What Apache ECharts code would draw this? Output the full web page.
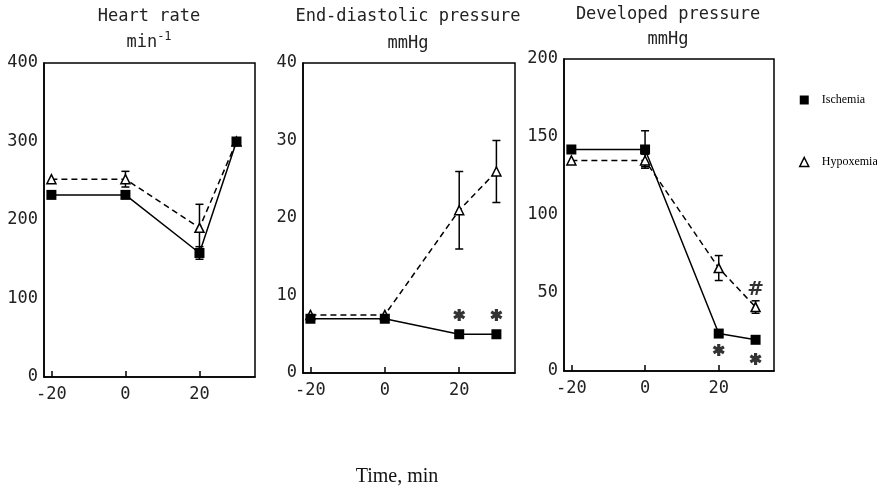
<!DOCTYPE html>
<html>
<head>
<meta charset="utf-8">
<script src="https://cdn.jsdelivr.net/npm/echarts@6/dist/echarts.min.js"></script>
<style>html,body{margin:0;padding:0;background:#fff}#c{width:877px;height:495px}</style>
</head>
<body>
<div id="c"></div>
<script>
// ---- data ----
const times = [-20, 0, 20, 30];
const xTickLabels = [-20, 0, 20];

const hrIsch = [232, 232, 158, 300];
const hrIschErr = [0, 0, 8, 0];
const hrHypo = [252, 252, 190, 300];
const hrHypoErr = [0, 10, 30, 0];

const edpIsch = [7, 7, 5, 5];
const edpIschErr = [0, 0, 0, 0];
const edpHypo = [7.5, 7.5, 21, 26];
const edpHypoErr = [0, 0, 5, 4];

const dpIsch = [142, 142, 24, 20];
const dpIschErr = [0, 12, 0, 0];
const dpHypo = [135, 135, 66, 41];
const dpHypoErr = [0, 4, 8, 4];

const edpStars = [[20, 7.5], [30, 7.5]];
const dpStars = [[20, 13.5], [30, 7.7]];
const dpHash = [[30, 52]];

const yMax = [400, 40, 200];
const yInterval = [100, 10, 50];

const panelTitles = ['Heart rate', 'End-diastolic pressure', 'Developed pressure'];
const panelUnits = ['min', 'mmHg', 'mmHg'];
const unitSup = ['-1', '', ''];
const xTitle = 'Time, min';

// ---- build ----
const MONO = '"DejaVu Sans Mono", monospace';
const SERIF = '"Liberation Serif", serif';
const STAR = 'path://M-1.6,-6L1.6,-6L1.6,6L-1.6,6Z M4.396,-4.386L5.996,-1.614L-4.396,4.386L-5.996,1.614Z M-5.996,-1.614L-4.396,-4.386L5.996,1.614L4.396,4.386Z';
const grids = [
  {left: 44, top: 63, width: 211, height: 314},
  {left: 303, top: 63, width: 212, height: 310},
  {left: 564, top: 59, width: 210, height: 312}
];
const pts = (vals) => times.map((t, i) => [t, vals[i]]);
const errPts = (vals, errs) => times.map((t, i) => [t, vals[i], errs[i]]).filter(d => d[2] > 0);

function errSeries(idx, vals, errs) {
  return {
    type: 'custom', xAxisIndex: idx, yAxisIndex: idx, z: 3,
    data: errPts(vals, errs),
    renderItem: function (params, api) {
      const x = api.value(0), y = api.value(1), e = api.value(2);
      const t = api.coord([x, y + e]);
      const b = api.coord([x, y - e]);
      const hw = 4;
      const st = {stroke: '#000', lineWidth: 1.5};
      return {type: 'group', children: [
        {type: 'line', shape: {x1: t[0], y1: t[1], x2: b[0], y2: b[1]}, style: st},
        {type: 'line', shape: {x1: t[0] - hw, y1: t[1], x2: t[0] + hw, y2: t[1]}, style: st},
        {type: 'line', shape: {x1: b[0] - hw, y1: b[1], x2: b[0] + hw, y2: b[1]}, style: st}
      ]};
    }
  };
}
function isch(idx, vals) {
  return {name: 'Ischemia', type: 'line', xAxisIndex: idx, yAxisIndex: idx, z: 5,
    data: pts(vals), symbol: 'rect', symbolSize: 10,
    itemStyle: {color: '#000'}, lineStyle: {color: '#000', width: 1.5}, animation: false};
}
function hypo(idx, vals) {
  return {name: 'Hypoxemia', type: 'line', xAxisIndex: idx, yAxisIndex: idx, z: 4,
    data: pts(vals), symbol: 'triangle', symbolSize: 9,
    itemStyle: {color: '#fff', borderColor: '#000', borderWidth: 1.5},
    lineStyle: {color: '#000', width: 1.5, type: [6, 4]}, animation: false};
}
function stars(idx, data) {
  return {type: 'scatter', xAxisIndex: idx, yAxisIndex: idx, z: 6, data: data,
    symbol: STAR, symbolSize: 12, itemStyle: {color: '#000'}, silent: true};
}
function hashMark(idx, data) {
  return {type: 'scatter', xAxisIndex: idx, yAxisIndex: idx, z: 6, data: data,
    symbolSize: 1, itemStyle: {color: 'rgba(0,0,0,0)'}, silent: true,
    label: {show: true, position: 'inside', formatter: '#',
      color: '#000', fontFamily: '"DejaVu Sans", sans-serif', fontWeight: 'bold', fontSize: 20}};
}

const xAxes = grids.map((g, i) => ({
  type: 'value', gridIndex: i, min: -22, max: 35,
  splitLine: {show: false},
  axisLine: {show: true, onZero: false, lineStyle: {color: '#000', width: 1.5}},
  axisTick: {show: true, inside: true, length: 6, customValues: xTickLabels, lineStyle: {color: '#000', width: 1.5}},
  axisLabel: {customValues: xTickLabels, margin: 9, color: '#222', fontFamily: MONO, fontSize: 17}
}));
const yAxes = grids.map((g, i) => ({
  type: 'value', gridIndex: i, min: 0, max: yMax[i], interval: yInterval[i],
  splitLine: {show: false},
  axisLine: {show: true, onZero: false, lineStyle: {color: '#000', width: 1.5}},
  axisTick: {show: false},
  axisLabel: {margin: 6, color: '#222', fontFamily: MONO, fontSize: 17}
}));

const series = [
  hypo(0, hrHypo), errSeries(0, hrHypo, hrHypoErr), isch(0, hrIsch), errSeries(0, hrIsch, hrIschErr),
  hypo(1, edpHypo), errSeries(1, edpHypo, edpHypoErr), isch(1, edpIsch), errSeries(1, edpIsch, edpIschErr),
  hypo(2, dpHypo), errSeries(2, dpHypo, dpHypoErr), isch(2, dpIsch), errSeries(2, dpIsch, dpIschErr),
  stars(1, edpStars), stars(2, dpStars), hashMark(2, dpHash)
];

const centers = [149, 408, 668];
const titleY = [17, 17, 15];
const unitY = [41, 42, 38];
const graphics = [];
centers.forEach((cx, i) => {
  graphics.push({type: 'text', x: cx, y: titleY[i], style: {text: panelTitles[i], font: '17px ' + MONO, fill: '#222', textAlign: 'center', textVerticalAlign: 'middle'}});
  const txt = unitSup[i] ? '{b|' + panelUnits[i] + '}{s|' + unitSup[i] + '}' : '{b|' + panelUnits[i] + '}';
  graphics.push({type: 'text', x: cx, y: unitY[i], style: {text: txt, fill: '#222', textAlign: 'center', textVerticalAlign: 'middle',
    rich: {b: {fontFamily: MONO, fontSize: 17, fill: '#222', verticalAlign: 'bottom', lineHeight: 20},
           s: {fontFamily: MONO, fontSize: 12, fill: '#222', verticalAlign: 'top', lineHeight: 20, padding: [0, 0, 8, 0]}}}});
});
graphics.push({type: 'text', x: 397, y: 477, style: {text: xTitle, font: '20px ' + SERIF, fill: '#111', textAlign: 'center', textVerticalAlign: 'middle'}});

const chart = echarts.init(document.getElementById('c'), null, {renderer: 'canvas'});
chart.setOption({
  animation: false,
  backgroundColor: '#fff',
  grid: grids.map(g => Object.assign({show: true, borderColor: '#000', borderWidth: 1.5, backgroundColor: 'transparent'}, g)),
  xAxis: xAxes,
  yAxis: yAxes,
  legend: {
    orient: 'vertical', left: 794, top: 89, itemWidth: 9, itemHeight: 9, itemGap: 50,
    selectedMode: false,
    textStyle: {fontFamily: SERIF, fontSize: 12, color: '#000', padding: [0, 0, 0, 8], overflow: 'none', width: 80},
    data: [
      {name: 'Ischemia', icon: 'rect', itemStyle: {color: '#000'}},
      {name: 'Hypoxemia', icon: 'triangle', itemStyle: {color: '#fff', borderColor: '#000', borderWidth: 1.5}}
    ]
  },
  graphic: graphics,
  series: series
});
</script>
</body>
</html>
